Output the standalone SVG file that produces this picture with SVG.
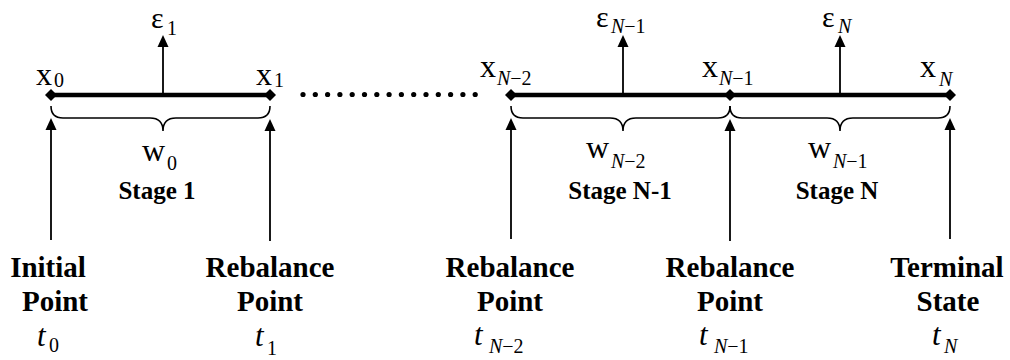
<svg xmlns="http://www.w3.org/2000/svg" width="1010" height="360" viewBox="0 0 1010 360">
<defs>
<style>
.m{font-family:"Liberation Serif",serif;font-size:32px;fill:#000}
.e{font-size:30px}
.s{font-size:20px}
.i{font-style:italic}
.st{font-family:"Liberation Serif",serif;font-size:25px;font-weight:bold;text-anchor:middle;fill:#000}
.lb{font-family:"Liberation Serif",serif;font-size:29px;font-weight:bold;text-anchor:middle;fill:#000}
.t{font-family:"Liberation Serif",serif;font-size:31px;font-style:italic;fill:#000}
.ln{stroke:#000;stroke-width:4.5;fill:none}
.ar{stroke:#000;stroke-width:1.8;fill:none}
.br{stroke:#000;stroke-width:1.6;fill:none}
.hd{fill:#000}
.dm{fill:#000}
</style>
</defs>
<rect width="1010" height="360" fill="#fff"/>
<g id="connectors">
<line class="ln" x1="50" y1="95" x2="270" y2="95"/>
<line class="ln" x1="510" y1="95" x2="950" y2="95"/>
<g id="dots" fill="#000">
<circle cx="303" cy="94.5" r="2.6"/><circle cx="315.3" cy="94.5" r="2.6"/><circle cx="327.6" cy="94.5" r="2.6"/><circle cx="339.9" cy="94.5" r="2.6"/><circle cx="352.2" cy="94.5" r="2.6"/><circle cx="364.5" cy="94.5" r="2.6"/><circle cx="376.8" cy="94.5" r="2.6"/><circle cx="389.1" cy="94.5" r="2.6"/><circle cx="401.4" cy="94.5" r="2.6"/><circle cx="413.7" cy="94.5" r="2.6"/><circle cx="426" cy="94.5" r="2.6"/><circle cx="438.3" cy="94.5" r="2.6"/><circle cx="450.6" cy="94.5" r="2.6"/><circle cx="462.9" cy="94.5" r="2.6"/><circle cx="475.2" cy="94.5" r="2.6"/>
</g>
<line class="ar" x1="163" y1="95" x2="163" y2="45"/>
<polygon class="hd" points="163,35 157.5,47 168.5,47"/>
<line class="ar" x1="623" y1="95" x2="623" y2="45"/>
<polygon class="hd" points="623,35 617.5,47 628.5,47"/>
<line class="ar" x1="840" y1="95" x2="840" y2="45"/>
<polygon class="hd" points="840,35 834.5,47 845.5,47"/>
<path class="br" d="M51,106 Q51,118 63,118 L150,118 Q163,118 163,131 Q163,118 176,118 L258,118 Q270,118 270,106"/>
<path class="br" d="M511,106 Q511,118 523,118 L610,118 Q623,118 623,131 Q623,118 636,118 L718,118 Q730,118 730,106"/>
<path class="br" d="M730,106 Q730,118 742,118 L827,118 Q840,118 840,131 Q840,118 853,118 L938,118 Q950,118 950,106"/>
<line class="ar" x1="51" y1="240" x2="51" y2="128"/>
<polygon class="hd" points="51,118 45.5,130 56.5,130"/>
<line class="ar" x1="270" y1="241" x2="270" y2="128"/>
<polygon class="hd" points="270,119 264.5,131 275.5,131"/>
<line class="ar" x1="511" y1="239" x2="511" y2="128"/>
<polygon class="hd" points="511,118 505.5,130 516.5,130"/>
<line class="ar" x1="730" y1="241" x2="730" y2="128"/>
<polygon class="hd" points="730,119 724.5,131 735.5,131"/>
<line class="ar" x1="950" y1="239" x2="950" y2="128"/>
<polygon class="hd" points="950,118 944.5,130 955.5,130"/>
</g>
<g id="node-x0">
<polygon class="dm" points="51,89 57,95 51,101 45,95"/>
<text class="m" x="36" y="85">x<tspan class="s" x="54" y="87">0</tspan></text>
</g>
<g id="node-x1">
<polygon class="dm" points="270,89 276,95 270,101 264,95"/>
<text class="m" x="256" y="85">x<tspan class="s" x="274" y="87">1</tspan></text>
</g>
<g id="node-xN-2">
<polygon class="dm" points="511,89 517,95 511,101 505,95"/>
<text class="m" x="480" y="77">x<tspan class="s" x="497" y="85"><tspan class="i">N</tspan>−2</tspan></text>
</g>
<g id="node-xN-1">
<polygon class="dm" points="730,89 736,95 730,101 724,95"/>
<text class="m" x="702" y="77">x<tspan class="s" x="719" y="85"><tspan class="i">N</tspan>−1</tspan></text>
</g>
<g id="node-xN">
<polygon class="dm" points="950,89 956,95 950,101 944,95"/>
<text class="m" x="920" y="77">x<tspan class="s i" x="939" y="86">N</tspan></text>
</g>
<g id="eps-1"><text class="m e" x="151" y="28">ε<tspan class="s" x="167" y="35">1</tspan></text></g>
<g id="eps-N-1"><text class="m e" x="596" y="27">ε<tspan class="s" x="611" y="33"><tspan class="i">N</tspan>−1</tspan></text></g>
<g id="eps-N"><text class="m e" x="822" y="27">ε<tspan class="s i" x="838" y="33">N</tspan></text></g>
<g id="stage-1">
<text class="m" x="142" y="161">w<tspan class="s" x="167" y="170">0</tspan></text>
<text class="st" x="157" y="199">Stage 1</text>
</g>
<g id="stage-N-1">
<text class="m" x="586" y="158">w<tspan class="s" x="611" y="168"><tspan class="i">N</tspan>−2</tspan></text>
<text class="st" x="620" y="199">Stage N-1</text>
</g>
<g id="stage-N">
<text class="m" x="808" y="158">w<tspan class="s" x="833" y="168"><tspan class="i">N</tspan>−1</tspan></text>
<text class="st" x="837" y="199">Stage N</text>
</g>
<g id="label-t0">
<text class="lb" x="48" y="277">Initial</text>
<text class="lb" x="55" y="311">Point</text>
<text class="t" x="37" y="346">t<tspan class="s" font-style="normal" x="49" y="352">0</tspan></text>
</g>
<g id="label-t1">
<text class="lb" x="270" y="277">Rebalance</text>
<text class="lb" x="270" y="311">Point</text>
<text class="t" x="255" y="346">t<tspan class="s" font-style="normal" x="267" y="355">1</tspan></text>
</g>
<g id="label-tN-2">
<text class="lb" x="510" y="277">Rebalance</text>
<text class="lb" x="510" y="311">Point</text>
<text class="t" x="474" y="345">t<tspan class="s" x="489" y="353"><tspan class="i">N</tspan><tspan font-style="normal">−2</tspan></tspan></text>
</g>
<g id="label-tN-1">
<text class="lb" x="730" y="277">Rebalance</text>
<text class="lb" x="730" y="311">Point</text>
<text class="t" x="699" y="345">t<tspan class="s" x="714" y="353"><tspan class="i">N</tspan><tspan font-style="normal">−1</tspan></tspan></text>
</g>
<g id="label-tN">
<text class="lb" x="947" y="277">Terminal</text>
<text class="lb" x="948" y="311">State</text>
<text class="t" x="932" y="345">t<tspan class="s" x="944" y="353">N</tspan></text>
</g>
</svg>
